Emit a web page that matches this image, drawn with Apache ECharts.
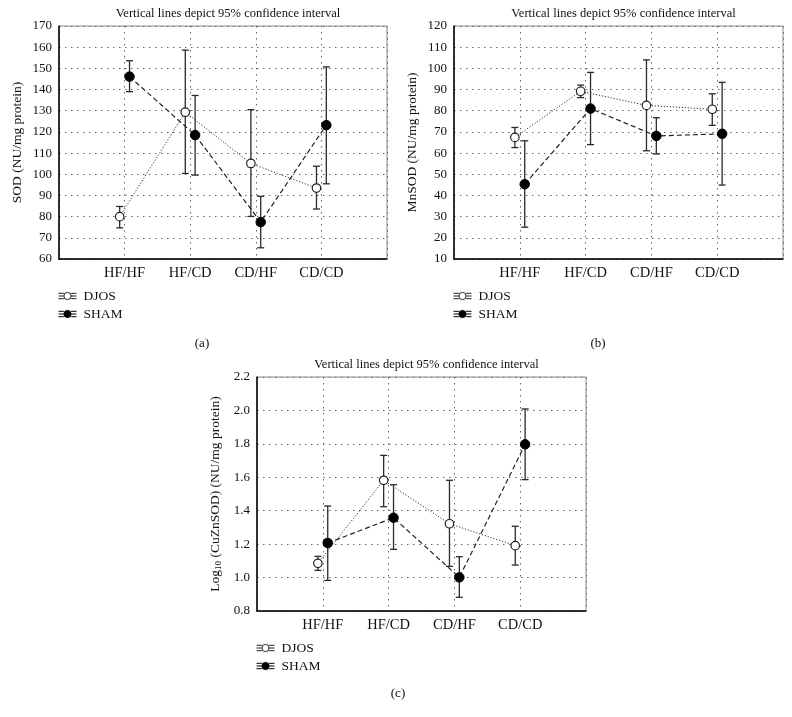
<!DOCTYPE html>
<html>
<head>
<meta charset="utf-8">
<script src="https://cdn.jsdelivr.net/npm/echarts@6/dist/echarts.min.js"></script>
<style>
html,body{margin:0;padding:0;background:#fff;}
#chart{width:792px;height:717px;}
</style>
</head>
<body>
<div id="chart"></div>
<script>
// ---- data ----
const categories = ['HF/HF', 'HF/CD', 'CD/HF', 'CD/CD'];
const seriesNames = ['DJOS', 'SHAM'];
const panelTitle = 'Vertical lines depict 95% confidence interval';
const panelCaptions = ['(a)', '(b)', '(c)'];

// Panel (a) SOD
const djosMeanA = [80.0, 129.3, 105.1, 93.5];
const djosLowA  = [74.7, 100.4, 80.1, 83.6];
const djosHighA = [84.8, 158.6, 130.5, 103.8];
const shamMeanA = [146.1, 118.5, 77.4, 123.2];
const shamLowA  = [139.0, 99.6, 65.3, 95.5];
const shamHighA = [153.6, 137.2, 89.6, 150.7];

// Panel (b) MnSOD
const djosMeanB = [67.4, 89.2, 82.5, 80.7];
const djosLowB  = [62.6, 86.2, 61.1, 73.1];
const djosHighB = [72.1, 92.1, 104.0, 88.0];
const shamMeanB = [45.3, 81.0, 68.1, 69.1];
const shamLowB  = [25.0, 64.0, 59.6, 44.9];
const shamHighB = [65.8, 98.1, 76.7, 93.4];

// Panel (c) log10 CuZnSOD
const djosMeanC = [1.085, 1.582, 1.322, 1.191];
const djosLowC  = [1.043, 1.424, 1.067, 1.075];
const djosHighC = [1.127, 1.731, 1.582, 1.307];
const shamMeanC = [1.207, 1.358, 1.001, 1.797];
const shamLowC  = [0.983, 1.169, 0.882, 1.586];
const shamHighC = [1.428, 1.556, 1.125, 2.009];

// axis ranges
const yRangeA = {min: 60, max: 170, interval: 10};
const yRangeB = {min: 10, max: 120, interval: 10};
const yRangeC = {min: 0.8, max: 2.2, interval: 0.2};
const yNames = ['SOD (NU/mg protein)', 'MnSOD (NU/mg protein)', 'Log{sub|10} (CuZnSOD) (NU/mg protein)'];

// ---- layout / style ----
const FONT = '"Liberation Serif", "DejaVu Serif", serif';
const grids = [
  {left: 59, top: 26, width: 328, height: 233},
  {left: 454, top: 26, width: 329, height: 233},
  {left: 257, top: 377, width: 329, height: 234}
];
const OFF = 0.075;
const dotted = [1.5, 4.5];

const panels = [
  {dj: [djosMeanA, djosLowA, djosHighA], sh: [shamMeanA, shamLowA, shamHighA], y: yRangeA, dec: 0},
  {dj: [djosMeanB, djosLowB, djosHighB], sh: [shamMeanB, shamLowB, shamHighB], y: yRangeB, dec: 0},
  {dj: [djosMeanC, djosLowC, djosHighC], sh: [shamMeanC, shamLowC, shamHighC], y: yRangeC, dec: 1}
];

const xAxes = [], yAxes = [], series = [], titles = [], legends = [];

function errRender(params, api) {
  const x = api.value(0);
  const p1 = api.coord([x, api.value(1)]);
  const p2 = api.coord([x, api.value(2)]);
  const w = 3.5;
  const st = {stroke: '#2a2a2a', lineWidth: 1.3};
  return {
    type: 'group',
    children: [
      {type: 'line', shape: {x1: p1[0], y1: p1[1], x2: p2[0], y2: p2[1]}, style: st},
      {type: 'line', shape: {x1: p1[0]-w, y1: p1[1], x2: p1[0]+w, y2: p1[1]}, style: st},
      {type: 'line', shape: {x1: p2[0]-w, y1: p2[1], x2: p2[0]+w, y2: p2[1]}, style: st}
    ]
  };
}

const iconLines = 'M0 2H6M14 2H20M0 5H6M14 5H20M0 8H6M14 8H20';
const iconCircle = 'M14 5A4 4 0 1 1 6 5A4 4 0 1 1 14 5Z';

panels.forEach((p, gi) => {
  const g = grids[gi];
  xAxes.push({
    type: 'value', gridIndex: gi, min: 0, max: 5, interval: 1,
    axisLine: {show: true, onZero: false, lineStyle: {color: '#000', width: 1.5}},
    axisTick: {show: false},
    axisLabel: {formatter: v => categories[v - 1] || '', color: '#111', fontFamily: FONT, fontSize: 14.5, margin: 7},
    splitLine: {show: true, lineStyle: {type: dotted, color: '#666', width: 1}}
  });
  yAxes.push({
    type: 'value', gridIndex: gi, min: p.y.min, max: p.y.max, interval: p.y.interval,
    axisLine: {show: true, lineStyle: {color: '#000', width: 1.5}},
    axisTick: {show: false},
    axisLabel: {formatter: v => v.toFixed(p.dec), color: '#111', fontFamily: FONT, fontSize: 13, margin: 7},
    splitLine: {show: true, lineStyle: {type: dotted, color: '#666', width: 1}},
    name: yNames[gi], nameLocation: 'middle', nameGap: gi === 2 ? 34 : 35,
    nameTextStyle: {color: '#111', fontFamily: FONT, fontSize: 13.5,
      rich: {sub: {fontSize: 9, verticalAlign: 'bottom', fontFamily: FONT, color: '#111', padding: [6, 0, 0, 0]}}}
  });
  const mk = (arr, off) => arr[0].map((m, i) => [i + 1 + off, m]);
  const ek = (arr, off) => arr[0].map((m, i) => [i + 1 + off, arr[1][i], arr[2][i]]);
  series.push({
    type: 'custom', name: 'ci-djos-' + gi, xAxisIndex: gi, yAxisIndex: gi,
    renderItem: errRender, data: ek(p.dj, -OFF), z: 2, encode: {x: 0, y: [1, 2]}
  });
  series.push({
    type: 'custom', name: 'ci-sham-' + gi, xAxisIndex: gi, yAxisIndex: gi,
    renderItem: errRender, data: ek(p.sh, OFF), z: 2, encode: {x: 0, y: [1, 2]}
  });
  series.push({
    type: 'line', name: 'DJOS', xAxisIndex: gi, yAxisIndex: gi, data: mk(p.dj, -OFF),
    symbol: 'circle', symbolSize: 8.5, z: 3,
    lineStyle: {color: '#333', width: 1, type: [1.2, 1.8]},
    itemStyle: {color: '#fff', borderColor: '#222', borderWidth: 1.2}
  });
  series.push({
    type: 'line', name: 'SHAM', xAxisIndex: gi, yAxisIndex: gi, data: mk(p.sh, OFF),
    symbol: 'circle', symbolSize: 9.5, z: 3,
    lineStyle: {color: '#222', width: 1.2, type: [5, 3]},
    itemStyle: {color: '#000', borderColor: '#000', borderWidth: 1}
  });
  titles.push({
    text: panelTitle, left: g.left + g.width / 2, top: g.top - 24, textAlign: 'center',
    textStyle: {fontFamily: FONT, fontSize: 12.5, fontWeight: 'normal', color: '#111'}
  });
  legends.push({
    orient: 'vertical', left: g.left - 1, top: g.top + g.height + 30, itemGap: 4, padding: 0,
    itemWidth: 18, itemHeight: 10, selectedMode: false,
    textStyle: {fontFamily: FONT, fontSize: 13.5, color: '#111', padding: [0, 0, 0, 2]},
    data: [
      {name: 'DJOS', icon: 'path://' + iconLines + iconCircle, itemStyle: {color: '#fff', borderColor: '#222', borderWidth: 1}},
      {name: 'SHAM', icon: 'path://' + iconLines + iconCircle, itemStyle: {color: '#000', borderColor: '#000', borderWidth: 1}}
    ]
  });
});

const captionPos = [[197, 332], [593, 332], [393, 682]];
panelCaptions.forEach((c, i) => {
  titles.push({
    text: c, left: captionPos[i][0], top: captionPos[i][1], textAlign: 'center',
    textStyle: {fontFamily: FONT, fontSize: 13, fontWeight: 'normal', color: '#111'}
  });
});

const chart = echarts.init(document.getElementById('chart'), null, {renderer: 'canvas'});
chart.setOption({
  animation: false,
  backgroundColor: '#fff',
  title: titles,
  legend: legends,
  grid: grids.map(g => Object.assign({show: true, borderColor: '#888', borderWidth: 1, containLabel: false}, g)),
  xAxis: xAxes,
  yAxis: yAxes,
  series: series
});
</script>
</body>
</html>
